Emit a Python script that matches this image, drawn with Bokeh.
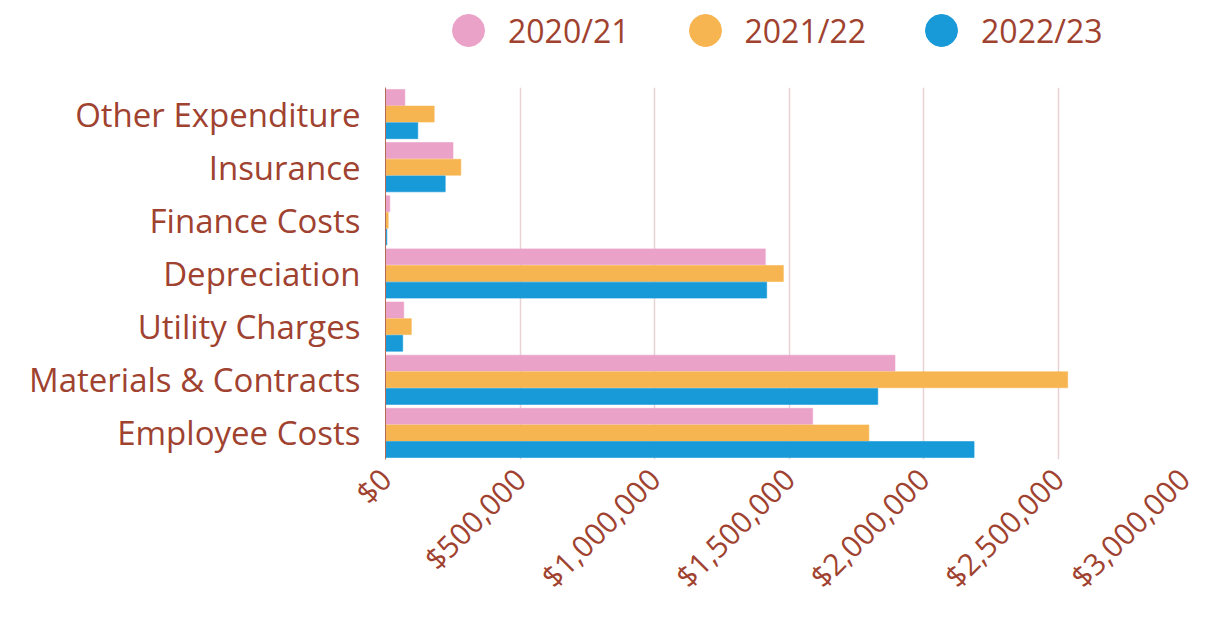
from bokeh.plotting import figure
from bokeh.models import (ColumnDataSource, FactorRange, Range1d, FixedTicker,
                          NumeralTickFormatter, Legend, LegendItem)
from bokeh.layouts import column
from bokeh.transform import dodge
from bokeh.embed import file_html
from bokeh.resources import INLINE
import math

categories = ["Employee Costs", "Materials & Contracts", "Utility Charges",
              "Depreciation", "Finance Costs", "Insurance", "Other Expenditure"]
years = ["2020/21", "2021/22", "2022/23"]
v2020 = [1588000, 1894000, 68000, 1412000, 16000, 251000, 72000]
v2021 = [1797000, 2536000, 96000, 1479000, 10000, 280000, 181000]
v2022 = [2188000, 1830000, 64000, 1417000, 5000, 222000, 120000]
x_ticks = [0, 500000, 1000000, 1500000, 2000000, 2500000, 3000000]

colors = ["#EBA2C8", "#F7B551", "#1899D8"]
text_color = "#9F4230"
FONT = "Open Sans"

# ---- legend strip ----
lg = figure(width=1198, height=87, output_backend="svg", toolbar_location=None,
            x_range=Range1d(0, 1), y_range=Range1d(0, 1),
            x_axis_location=None, y_axis_location=None,
            min_border_left=0, min_border_right=0, min_border_top=0,
            min_border_bottom=0)
lg.outline_line_color = None
lg.xgrid.grid_line_color = None
lg.ygrid.grid_line_color = None
items = []
for yr, col in zip(years, colors):
    # legend-only renderer (no visible point in the strip)
    r = lg.scatter(x=[float("nan")], y=[float("nan")], marker="circle",
                   fill_color=col, line_color=col)
    items.append(LegendItem(label=yr, renderers=[r]))
legend = Legend(items=items, orientation="horizontal", location=(43, 17),
                glyph_width=80, glyph_height=80, label_standoff=-10, spacing=35,
                padding=0, margin=0, border_line_color=None,
                background_fill_alpha=0,
                label_text_font=FONT, label_text_font_size="32px",
                label_text_color=text_color)
lg.add_layout(legend, "center")

# ---- main chart ----
p = figure(width=1198, height=527, output_backend="svg", toolbar_location=None,
           y_range=FactorRange(*categories, range_padding=0),
           x_range=Range1d(0, 3000000),
           min_border_left=385, min_border_right=6, min_border_top=0,
           min_border_bottom=155)
p.outline_line_color = None

offsets = [-0.313, 0.0, 0.313]
series = [v2020, v2021, v2022]
for vals, off, col in zip(series, offsets, colors):
    src = ColumnDataSource(dict(cat=categories, val=vals))
    p.hbar(y=dodge("cat", -off, range=p.y_range), right="val", left=0,
           height=0.30, source=src, fill_color=col, line_color=col,
           line_alpha=0.6, line_width=1)

p.xaxis.ticker = FixedTicker(ticks=x_ticks)
p.xaxis.formatter = NumeralTickFormatter(format="$0,0")
p.xaxis.major_label_orientation = math.pi / 4
p.xaxis.axis_line_color = None
p.xaxis.major_tick_line_color = None
p.xaxis.minor_tick_line_color = None
p.xaxis.major_label_text_font = FONT
p.xaxis.major_label_text_font_size = "30px"
p.xaxis.major_label_text_color = text_color
p.xaxis.major_label_standoff = 8

p.yaxis.major_label_text_font = FONT
p.yaxis.major_label_text_font_size = "33px"
p.yaxis.major_label_text_color = text_color
p.yaxis.axis_line_color = "#B06A5A"
p.yaxis.axis_line_width = 1
p.yaxis.major_tick_line_color = None
p.yaxis.minor_tick_line_color = None
p.yaxis.major_label_standoff = 19

p.ygrid.grid_line_color = None
p.xgrid.grid_line_color = "#E8D3D3"
p.xgrid.grid_line_width = 1.5
p.xgrid.ticker = FixedTicker(ticks=x_ticks)

layout = column(lg, p, spacing=0)
open("out.html", "w").write(file_html(layout, INLINE))
